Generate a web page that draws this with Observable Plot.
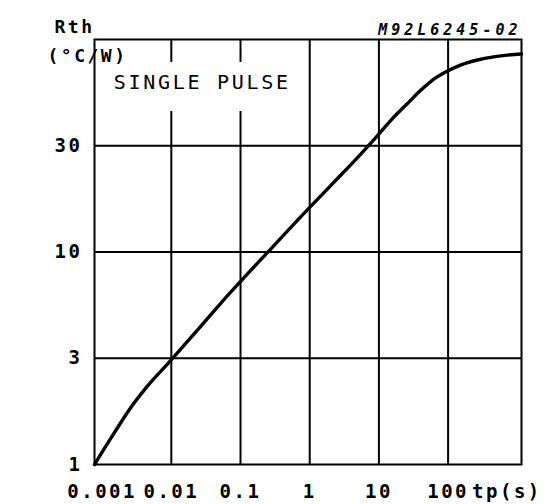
<!DOCTYPE html>
<html><head><meta charset="utf-8">
<script src="https://cdn.jsdelivr.net/npm/d3@7"></script>
<script src="https://cdn.jsdelivr.net/npm/@observablehq/plot@0.6"></script>
<style>
body{margin:0;background:#fff}
#chart svg{font-family:"DejaVu Sans Mono",monospace;letter-spacing:2.5px}
</style>
</head><body><div id="chart"></div>
<script>
// pulse duration tp (s) and thermal resistance Rth (°C/W)
const pulseTime = [0.000776, 0.00148, 0.0026, 0.00458, 0.00984, 0.0249, 0.0514, 0.0968, 0.2455, 0.961, 2.21, 4.91, 9.55, 16.3, 25.9, 39.9, 61.5, 98.0, 151, 266, 453, 1150];
const rth       = [1, 1.40, 1.855, 2.35, 3.09, 4.36, 5.72, 7.18, 9.95, 16.0, 21.2, 27.8, 35.3, 43.0, 50.0, 57.5, 64.9, 71.0, 75.8, 80.1, 82.9, 85.5];

const xDomain = [0.000776, 1150];
const yDomain = [1, 100];
const xTicks = [0.001, 0.01, 0.1, 1, 10, 100];
const xTickLabels = ["0.001", "0.01", "0.1", "1", "10", "100"];
// the chart's axis puts "3" and "30" halfway between decades
const yTicks = [1, 3.162, 10, 31.62];
const yTickLabels = ["1", "3", "10", "30"];
const gridXFull = [1, 10, 100];
const gridXBroken = [0.01, 0.1];
const gridY = [3.162, 10, 31.62];

const data = pulseTime.map((t, i) => ({t, r: rth[i]}));
const font = "DejaVu Sans Mono";

const svg = Plot.plot({
  width: 547, height: 504,
  marginLeft: 94, marginRight: 26, marginTop: 39, marginBottom: 40,
  x: {type: "log", domain: xDomain, ticks: xTicks,
      tickFormat: d => xTickLabels[xTicks.indexOf(d)], tickSize: 0, tickPadding: 20, label: null},
  y: {type: "log", domain: yDomain, ticks: yTicks,
      tickFormat: d => yTickLabels[yTicks.indexOf(d)], tickSize: 0, tickPadding: 12, label: null},
  style: {fontFamily: font, fontSize: "19px", fontWeight: "bold", color: "black", background: "white"},
  marks: [
    Plot.ruleX(gridXFull, {stroke: "black", strokeWidth: 2}),
    Plot.ruleX(gridXBroken, {y1: 1, y2: 45.8, stroke: "black", strokeWidth: 2}),
    Plot.ruleX(gridXBroken, {y1: 78, y2: 100, stroke: "black", strokeWidth: 2}),
    Plot.ruleY(gridY, {stroke: "black", strokeWidth: 2}),
    Plot.frame({stroke: "black", strokeWidth: 2}),
    Plot.line(data, {x: "t", y: "r", stroke: "black", strokeWidth: 3.4, curve: "monotone-x", strokeLinejoin: "round", strokeLinecap: "round"}),
    Plot.text(["SINGLE PULSE"], {x: 0.028, y: 63, fontSize: 20, fontWeight: "normal", fontFamily: font, fill: "black"}),
    Plot.text(["tp(s)"], {x: 100, frameAnchor: "bottom", dx: 24, dy: 20, lineAnchor: "top", textAnchor: "start", fontSize: 19, fontWeight: "bold", fontFamily: font, fill: "black"}),
    Plot.text(["Rth"], {frameAnchor: "top-left", dx: -40, dy: -19, fontSize: 18, fontWeight: "bold", fontFamily: font, fill: "black"}),
    Plot.text(["(°C/W)"], {frameAnchor: "top-left", dx: -47, dy: 10, fontSize: 18, fontWeight: "bold", fontFamily: font, fill: "black"}),
    Plot.text(["M92L6245-02"], {frameAnchor: "top-right", dx: 0, dy: -15.5, textAnchor: "end", fontSize: 15, fontWeight: "bold", fontStyle: "italic", fontFamily: font, fill: "black"})
  ]
});
d3.select(svg).selectAll("text").filter(function(){ return this.textContent === "M92L6245-02"; })
  .style("letter-spacing", "4px");
d3.select(svg).selectAll("text").filter(function(){ return this.textContent === "SINGLE PULSE"; })
  .style("letter-spacing", "2.7px");
document.getElementById("chart").appendChild(svg);
</script>
</body></html>
